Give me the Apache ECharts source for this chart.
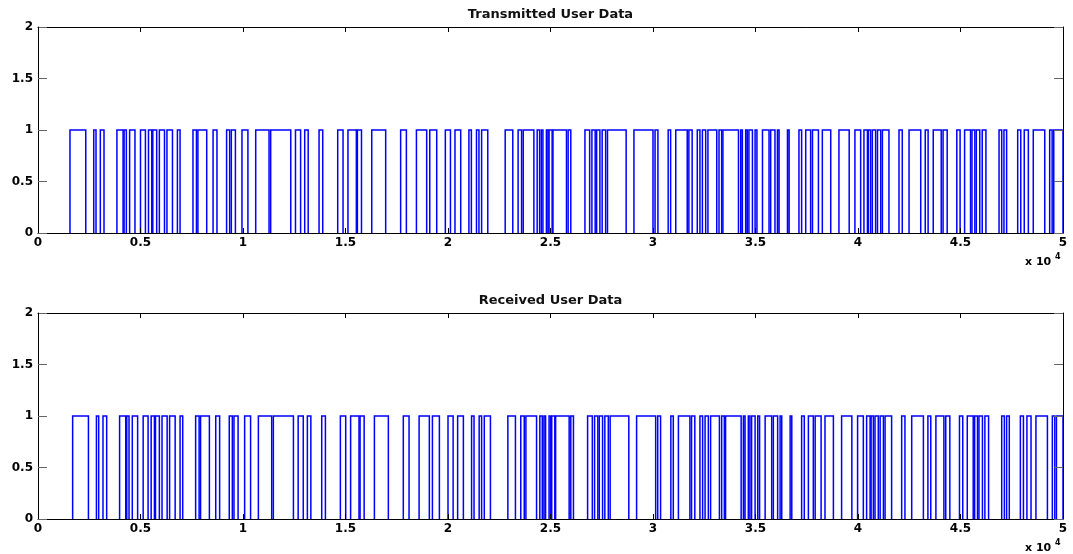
<!DOCTYPE html>
<html>
<head>
<meta charset="utf-8">
<script src="https://cdn.jsdelivr.net/npm/echarts@6/dist/echarts.min.js"></script>
<style>
  html, body { margin: 0; padding: 0; background: #ffffff; }
  #chart { width: 1073px; height: 554px; }
</style>
</head>
<body>
<div id="chart"></div>
<script>
// Sample index range shown on each x axis
const xMax = 50000;
const bitHigh = 1;
const xTickLabels = ['0', '0.5', '1', '1.5', '2', '2.5', '3', '3.5', '4', '4.5', '5'];
const yTickLabels = ['0', '0.5', '1', '1.5', '2'];
const plotTitles = ['Transmitted User Data', 'Received User Data'];

// Intervals [rise, fall] (sample index) where the transmitted bit stream is 1
const txPulses = [
  [1560, 2330], [2720, 2830], [3040, 3220], [3850, 4150], [4200, 4310], [4470, 4730],
  [5000, 5240], [5390, 5550], [5600, 5790], [5920, 6170], [6290, 6560], [6800, 6930],
  [7560, 7730], [7800, 8230], [8540, 8730], [9200, 9350], [9430, 9630], [9950, 10240],
  [10620, 11270], [11350, 12330], [12560, 12810], [13010, 13180], [13710, 13890],
  [14620, 14880], [15120, 15530], [15580, 15780], [16280, 16960], [17690, 17970],
  [18460, 18960], [19110, 19450], [19870, 20120], [20340, 20620], [21020, 21140],
  [21390, 21510], [21640, 21940], [22790, 23160], [23420, 23590], [23670, 24190],
  [24350, 24470], [24550, 24630], [24800, 24880], [24930, 25080], [25120, 25780],
  [25860, 25990], [26680, 26910], [27020, 27180], [27250, 27410], [27520, 27690],
  [27780, 28690], [29070, 30000], [30100, 30240], [30740, 30860], [31110, 31670],
  [31750, 31910], [32160, 32290], [32410, 32570], [32680, 33110], [33220, 33350],
  [33410, 34170], [34280, 34360], [34520, 34600], [34680, 34850], [34980, 35070],
  [35340, 35660], [35740, 35950], [36070, 36150], [36560, 36640], [37120, 37250],
  [37450, 37690], [37780, 38070], [38260, 38670], [39070, 39570], [39850, 40130],
  [40290, 40460], [40510, 40620], [40700, 40860], [40950, 41110], [41190, 41510],
  [42000, 42160], [42490, 43060], [43280, 43420], [43670, 44060], [44150, 44350],
  [44820, 44980], [45200, 45490], [45560, 45700], [45770, 45940], [46060, 46240],
  [46880, 47010], [47120, 47250], [47790, 47940], [48110, 48310], [48550, 49110],
  [49350, 49470], [49550, 50000]
];

// Intervals [rise, fall] (sample index) where the received bit stream is 1
const rxPulses = [
  [1690, 2460], [2850, 2960], [3170, 3350], [3980, 4280], [4330, 4440], [4600, 4860],
  [5130, 5370], [5520, 5680], [5730, 5920], [6050, 6300], [6420, 6690], [6930, 7060],
  [7690, 7860], [7930, 8360], [8670, 8860], [9330, 9480], [9560, 9760], [10080, 10370],
  [10750, 11400], [11480, 12460], [12690, 12940], [13140, 13310], [13840, 14020],
  [14750, 15010], [15250, 15660], [15710, 15910], [16410, 17090], [17820, 18100],
  [18590, 19090], [19240, 19580], [20000, 20250], [20470, 20750], [21150, 21270],
  [21520, 21640], [21770, 22070], [22920, 23290], [23550, 23720], [23800, 24320],
  [24480, 24600], [24680, 24760], [24930, 25010], [25060, 25210], [25250, 25910],
  [25990, 26120], [26810, 27040], [27150, 27310], [27380, 27540], [27650, 27820],
  [27910, 28820], [29200, 30130], [30230, 30370], [30870, 30990], [31240, 31800],
  [31880, 32040], [32290, 32420], [32540, 32700], [32810, 33240], [33350, 33480],
  [33540, 34300], [34410, 34490], [34650, 34730], [34810, 34980], [35110, 35200],
  [35470, 35790], [35870, 36080], [36200, 36280], [36690, 36770], [37250, 37380],
  [37580, 37820], [37910, 38200], [38390, 38800], [39200, 39700], [39980, 40260],
  [40420, 40590], [40640, 40750], [40830, 40990], [41080, 41240], [41320, 41640],
  [42130, 42290], [42620, 43190], [43410, 43550], [43800, 44190], [44280, 44480],
  [44950, 45110], [45330, 45620], [45690, 45830], [45900, 46070], [46190, 46370],
  [47010, 47140], [47250, 47380], [47920, 48070], [48240, 48440], [48680, 49240],
  [49480, 49600], [49680, 50000]
];

const FONT = 'DejaVu Sans';
const grids = [
  { left: 38, right: 10, top: 27, height: 206 },
  { left: 38, right: 10, top: 313, height: 206 }
];

// Each pulse is drawn as its rising edge, high level and falling edge
function renderPulse(params, api) {
  const rise = api.value(0), fall = api.value(1);
  return {
    type: 'polyline',
    shape: {
      points: [
        api.coord([rise, 0]),
        api.coord([rise, bitHigh]),
        api.coord([fall, bitHigh]),
        api.coord([fall, 0])
      ]
    },
    style: { stroke: '#0000ff', lineWidth: 1.5, fill: null, lineJoin: 'miter' },
    silent: true
  };
}

const xAxes = [], yAxes = [], series = [], graphics = [];
grids.forEach((g, i) => {
  xAxes.push({
    type: 'value', gridIndex: i, min: 0, max: xMax, interval: 5000, position: 'bottom', z: 5,
    axisLine: { onZero: false, lineStyle: { color: '#000', width: 1 } },
    axisTick: { inside: true, length: 5, lineStyle: { color: '#000' } },
    axisLabel: {
      margin: 4, color: '#000', fontFamily: FONT, fontWeight: 'bold', fontSize: 12,
      formatter: v => xTickLabels[Math.round(v / 5000)]
    },
    splitLine: { show: false }
  });
  xAxes.push({
    type: 'value', gridIndex: i, min: 0, max: xMax, interval: 5000, position: 'top', z: 5,
    axisLine: { onZero: false, lineStyle: { color: '#000', width: 1 } },
    axisTick: { inside: true, length: 5, lineStyle: { color: '#000' } },
    axisLabel: { show: false },
    splitLine: { show: false }
  });
  yAxes.push({
    type: 'value', gridIndex: i, min: 0, max: 2, interval: 0.5, position: 'left', z: 5,
    axisLine: { show: true, onZero: false, lineStyle: { color: '#000', width: 1 } },
    axisTick: { show: true, inside: true, length: 9, lineStyle: { color: '#666' } },
    axisLabel: {
      margin: 5, color: '#000', fontFamily: FONT, fontWeight: 'bold', fontSize: 12,
      formatter: v => yTickLabels[Math.round(v / 0.5)]
    },
    splitLine: { show: false }
  });
  yAxes.push({
    type: 'value', gridIndex: i, min: 0, max: 2, interval: 0.5, position: 'right', z: 5,
    axisLine: { show: true, onZero: false, lineStyle: { color: '#000', width: 1 } },
    axisTick: { show: true, inside: true, length: 9, lineStyle: { color: '#666' } },
    axisLabel: { show: false },
    splitLine: { show: false }
  });
  series.push({
    type: 'custom',
    xAxisIndex: i * 2, yAxisIndex: i * 2,
    data: i === 0 ? txPulses : rxPulses,
    encode: { x: [0, 1] },
    renderItem: renderPulse,
    clip: true,
    animation: false, z: 2
  });

  const plotRight = 1073 - g.right;
  const plotCenter = (g.left + plotRight) / 2;
  const plotBottom = g.top + g.height;
  graphics.push({
    type: 'text', x: plotCenter, y: g.top - 12,
    style: {
      text: plotTitles[i], fill: '#111', font: 'bold 13px "' + FONT + '"',
      textAlign: 'center', textVerticalAlign: 'middle', align: 'center', verticalAlign: 'middle'
    }
  });
  graphics.push({
    type: 'text', x: plotRight - 38, y: plotBottom + 29,
    style: {
      text: 'x 10', fill: '#000', font: 'bold 11px "' + FONT + '"',
      textAlign: 'left', textVerticalAlign: 'middle', align: 'left', verticalAlign: 'middle'
    }
  });
  graphics.push({
    type: 'text', x: plotRight - 8, y: plotBottom + 24,
    style: {
      text: '4', fill: '#000', font: 'bold 8px "' + FONT + '"',
      textAlign: 'left', textVerticalAlign: 'middle', align: 'left', verticalAlign: 'middle'
    }
  });
});

const chart = echarts.init(document.getElementById('chart'), null, { renderer: 'canvas' });
chart.setOption({
  animation: false,
  backgroundColor: '#ffffff',
  grid: grids,
  xAxis: xAxes,
  yAxis: yAxes,
  series: series,
  graphic: graphics
});
</script>
</body>
</html>
